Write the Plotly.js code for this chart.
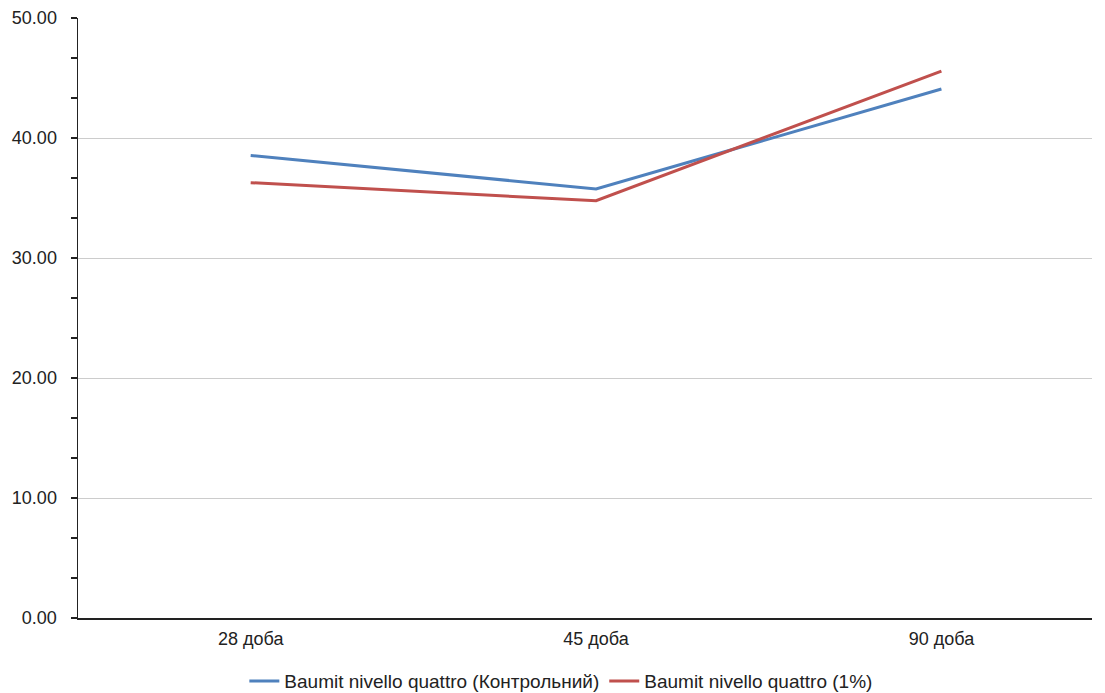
<!DOCTYPE html>
<html>
<head>
<meta charset="utf-8">
<script src="https://cdn.plot.ly/plotly-3.0.1.min.js"></script>
<style>html,body{margin:0;padding:0;background:#fff;}#chart{width:1105px;height:693px;}</style>
</head>
<body>
<div id="chart"></div>
<script>
const categories = ["28 доба", "45 доба", "90 доба"];
const seriesNames = ["Baumit nivello quattro (Контрольний)", "Baumit nivello quattro (1%)"];
const controlValues = [38.55, 35.75, 44.08];
const onePercentValues = [36.28, 34.77, 45.58];
const yTickValues = [0, 10, 20, 30, 40, 50];

const font = "Liberation Sans, Arial, sans-serif";
const traces = [
  {x: categories, y: controlValues, name: seriesNames[0], type: "scatter", mode: "lines",
   line: {color: "#4F81BD", width: 3}},
  {x: categories, y: onePercentValues, name: seriesNames[1], type: "scatter", mode: "lines",
   line: {color: "#C0504D", width: 3}}
];
const layout = {
  width: 1105, height: 693,
  margin: {l: 78, r: 13, t: 18, b: 75},
  paper_bgcolor: "#fff", plot_bgcolor: "#fff",
  font: {family: font, size: 18, color: "#222"},
  showlegend: true,
  legend: {orientation: "h", xref: "container", yref: "container", x: 0.508, xanchor: "center",
           y: 0.017, yanchor: "middle", font: {size: 19, color: "#222"}},
  xaxis: {type: "category", range: [-0.5, 2.436], showgrid: false, zeroline: false,
          showline: true, linecolor: "#222", linewidth: 1.5, ticks: "", ticklabelstandoff: 4,
          tickfont: {size: 18, color: "#222"}},
  yaxis: {range: [0, 50], tickvals: yTickValues, tickformat: ".2f", showgrid: true,
          gridcolor: "#cccccc", gridwidth: 1, zeroline: false, showline: true,
          linecolor: "#222", linewidth: 1.5, ticks: "", ticklabelstandoff: 16,
          tickfont: {size: 18, color: "#222"},
          minor: {dtick: 10/3, tick0: 0, ticks: "outside", ticklen: 6, tickcolor: "#222",
                  tickwidth: 1.5, showgrid: false}}
};
Plotly.newPlot("chart", traces, layout, {displayModeBar: false, staticPlot: true});
</script>
</body>
</html>
